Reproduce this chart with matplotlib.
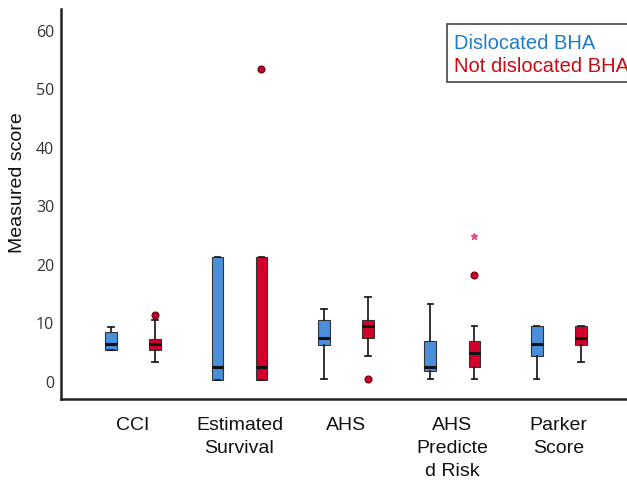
import matplotlib.pyplot as plt
from matplotlib.patches import Rectangle
import numpy as np

# categories and groups
categories = ["CCI", "Estimated\nSurvival", "AHS", "AHS\nPredicte\nd Risk", "Parker\nScore"]
groups = ["Dislocated BHA", "Not dislocated BHA"]

# box statistics (q1, median, q3, lower whisker, upper whisker)
disl_q1 = [5.2, 0.2, 6.2, 1.7, 4.3]
disl_med = [6.3, 2.3, 7.3, 2.4, 6.3]
disl_q3 = [8.3, 21.2, 10.4, 6.8, 9.3]
disl_lo = [5.2, 0.2, 0.3, 0.3, 0.3]
disl_hi = [9.2, 21.2, 12.3, 13.2, 9.3]
disl_out = [[], [], [], [], []]

nd_q1 = [5.2, 0.2, 7.3, 2.4, 6.2]
nd_med = [6.3, 2.3, 9.3, 4.8, 7.3]
nd_q3 = [7.2, 21.2, 10.4, 6.8, 9.3]
nd_lo = [3.2, 0.2, 4.3, 0.3, 3.2]
nd_hi = [10.4, 21.2, 14.3, 9.4, 9.3]
nd_out = [[11.2], [53.3], [0.3], [18.1], []]
nd_extreme = [[], [], [], [24.8], []]

blue = "#4a8fdb"
red = "#d4002b"

fig = plt.figure(figsize=(6.27, 4.81), dpi=100)
ax = fig.add_axes([0.0973, 0.1684, 0.9027, 0.8106])

x = np.arange(len(categories))
off = 0.207
w = 0.11


def stats(q1, med, q3, lo, hi, out):
    return [dict(q1=a, med=b, q3=c, whislo=d, whishi=e, fliers=f)
            for a, b, c, d, e, f in zip(q1, med, q3, lo, hi, out)]


for st, pos, col in [
    (stats(disl_q1, disl_med, disl_q3, disl_lo, disl_hi, disl_out), x - off, blue),
    (stats(nd_q1, nd_med, nd_q3, nd_lo, nd_hi, nd_out), x + off, red),
]:
    ax.bxp(st, positions=pos, widths=w, patch_artist=True, manage_ticks=False,
           boxprops=dict(facecolor=col, edgecolor="#333333", linewidth=0.8),
           medianprops=dict(color="#111111", linewidth=2.2),
           whiskerprops=dict(color="#222222", linewidth=1.3),
           capprops=dict(color="#222222", linewidth=1.3),
           capwidths=w * 0.45,
           flierprops=dict(marker="o", markerfacecolor="#c8002a", markeredgecolor="#6a0015",
                           markersize=5, markeredgewidth=0.8))

for i, vals in enumerate(nd_extreme):
    for v in vals:
        ax.plot(x[i] + off, v, marker="*", color="#e0507a", markersize=5, linestyle="none")

ax.set_xlim(-0.676, 4.64)
ax.set_ylim(-3.1, 63.5)
ax.set_yticks([0, 10, 20, 30, 40, 50, 60])
ax.set_xticks(x)
ax.set_xticklabels(categories, fontsize=14, family="Liberation Sans", linespacing=1.45,
                   color="#111111", va="top")
ax.tick_params(axis="x", length=0, pad=12.5)
ax.tick_params(axis="y", length=0, pad=5, labelsize=11.5, labelcolor="#333333")
for lab in ax.get_yticklabels():
    lab.set_family("Open Sans")

fig.text(18 / 627, 1 - 183 / 481, "Measured score", rotation=90, ha="center", va="center",
         fontsize=14, family="Liberation Sans", color="#111111")

for s in ["top", "right"]:
    ax.spines[s].set_visible(False)
for s in ["left", "bottom"]:
    ax.spines[s].set_linewidth(1.8)
    ax.spines[s].set_color("#222222")

# legend: framed box running off the right edge, with coloured text lines
ax.add_patch(Rectangle((0.682, 0.813), 0.4, 0.1485, transform=ax.transAxes, clip_on=False,
                       facecolor="white", edgecolor="#444444", linewidth=1.2, zorder=5))
ax.text(0.694, 0.915, groups[0], transform=ax.transAxes, fontsize=14.5,
        family="Liberation Sans", color="#1f7ccc", va="center", ha="left", zorder=6)
ax.text(0.694, 0.856, groups[1], transform=ax.transAxes, fontsize=14.5,
        family="Liberation Sans", color="#cc0a14", va="center", ha="left", zorder=6,
        clip_on=False)

fig.savefig("out.png", dpi=100)
